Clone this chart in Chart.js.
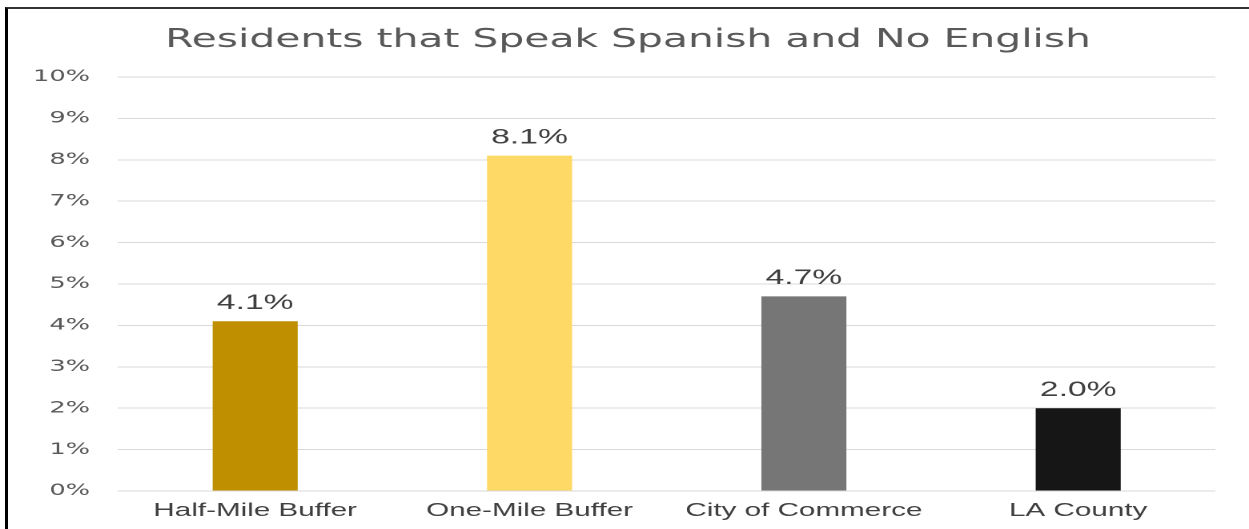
<!DOCTYPE html>
<html>
<head>
<meta charset="utf-8">
<script src="https://cdn.jsdelivr.net/npm/chart.js@4.4.1/dist/chart.umd.min.js"></script>
<style>
  html, body { margin: 0; padding: 0; background: #fff; overflow: hidden; }
  #stage { position: absolute; left: 0; top: 0; width: 1249px; height: 529px; overflow: hidden; }
  #wrap { position: absolute; left: 0; top: 0; width: 780px; height: 529px; transform-origin: 0 0; }
  #frame { position: absolute; left: 5px; top: 7px; right: -10px; bottom: -10px;
           border-left: 3px solid #000; border-top: 2px solid #333; pointer-events: none; }
</style>
</head>
<body>
<div id="stage">
  <div id="wrap"><canvas id="c" width="780" height="529"></canvas></div>
  <div id="frame"></div>
</div>
<script>
// Share of residents who speak Spanish and no English, by area (percent)
const categories = ['Half-Mile Buffer', 'One-Mile Buffer', 'City of Commerce', 'LA County'];
const values = [4.1, 8.1, 4.7, 2.0];
const barColors = ['#BF8F00', '#FFD966', '#767676', '#161616'];
const yTicks = [0, 1, 2, 3, 4, 5, 6, 7, 8, 9, 10];
const titleText = 'Residents that Speak Spanish and No English';

// The drawing is laid out at a narrower logical width and widened horizontally.
const STAGE_W = 1249, LOGICAL_W = 780;
const SX = STAGE_W / LOGICAL_W;
document.getElementById('wrap').style.transform = 'scaleX(' + SX + ')';

// Heading, centred on the whole frame rather than on the plot area
const heading = {
  id: 'heading',
  afterDraw(chart) {
    const ctx = chart.ctx;
    ctx.save();
    ctx.font = '25.5px "DejaVu Sans", sans-serif';
    ctx.fillStyle = '#595959';
    ctx.textAlign = 'center';
    ctx.textBaseline = 'alphabetic';
    ctx.fillText(titleText, chart.width / 2 + 2.2, 47);
    ctx.restore();
  }
};

// Value labels above each bar
const valueLabels = {
  id: 'valueLabels',
  afterDatasetsDraw(chart) {
    const ctx = chart.ctx;
    const meta = chart.getDatasetMeta(0);
    ctx.save();
    ctx.font = '21px "Liberation Sans", Arial, sans-serif';
    ctx.fillStyle = '#404040';
    ctx.textAlign = 'center';
    ctx.textBaseline = 'middle';
    meta.data.forEach((bar, i) => {
      ctx.fillText(values[i].toFixed(1) + '%', bar.x, bar.y - 18);
    });
    ctx.restore();
  }
};

new Chart(document.getElementById('c'), {
  type: 'bar',
  data: {
    labels: categories,
    datasets: [{
      data: values,
      backgroundColor: barColors,
      borderWidth: 0,
      barPercentage: 0.31,
      categoryPercentage: 1.0
    }]
  },
  options: {
    responsive: false,
    animation: false,
    devicePixelRatio: 2,
    layout: { padding: { left: 0, right: 21, top: 77, bottom: 0 } },
    plugins: {
      legend: { display: false },
      tooltip: { enabled: false },
      title: { display: false }
    },
    scales: {
      x: {
        afterFit(scale) { scale.height = 38; },
        grid: { display: false, drawTicks: false },
        border: { display: false },
        ticks: {
          color: '#404040',
          font: { family: '"Liberation Sans", Arial, sans-serif', size: 18.5 },
          padding: 9,
          maxRotation: 0
        }
      },
      y: {
        min: 0,
        max: 10,
        afterFit(scale) { scale.width = 73.7; },
        afterBuildTicks(scale) { scale.ticks = yTicks.map(v => ({ value: v })); },
        grid: { color: '#d9d9d9', lineWidth: 1, drawTicks: false },
        border: { display: false },
        ticks: {
          color: '#595959',
          font: { family: '"DejaVu Sans", sans-serif', size: 16 },
          padding: 17.5,
          callback: v => v + '%'
        }
      }
    }
  },
  plugins: [valueLabels, heading]
});
</script>
</body>
</html>
